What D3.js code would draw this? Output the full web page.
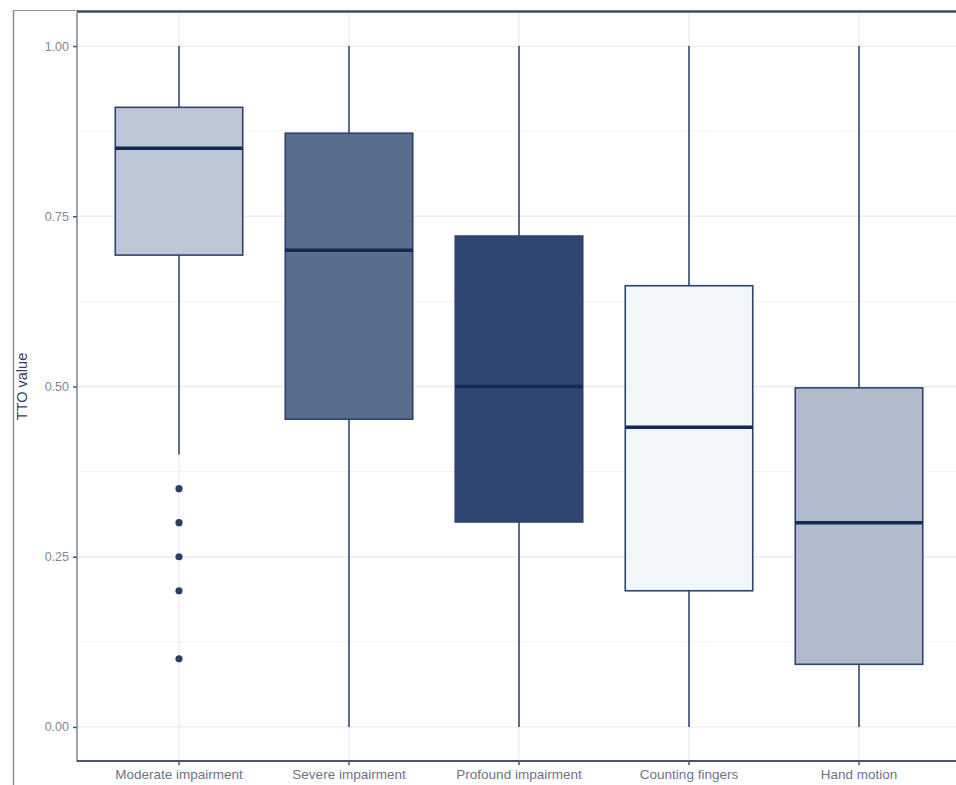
<!DOCTYPE html>
<html>
<head>
<meta charset="utf-8">
<script src="https://cdn.jsdelivr.net/npm/d3@7"></script>
<style>
  body { margin: 0; background: #fff; }
  svg text { font-family: "Liberation Sans", Arial, sans-serif; }
</style>
</head>
<body>
<div id="chart"></div>
<script>
// data
var categories = ["Moderate impairment", "Severe impairment", "Profound impairment", "Counting fingers", "Hand motion"];
var whiskerLow = [0.40, 0.00, 0.00, 0.00, 0.00];
var q1 = [0.693, 0.452, 0.301, 0.200, 0.092];
var medians = [0.85, 0.70, 0.50, 0.44, 0.30];
var q3 = [0.910, 0.872, 0.721, 0.648, 0.498];
var whiskerHigh = [1.00, 1.00, 1.00, 1.00, 1.00];
var outliers = [[0.35, 0.30, 0.25, 0.20, 0.10], [], [], [], []];
var fills = ["#bdc6d4", "#5a6d8d", "#2f4670", "#f3f6f9", "#b2bbcb"];
var yTicks = [0, 0.25, 0.5, 0.75, 1];

var width = 956, height = 785;
var margin = { top: 12, left: 77 };
var panelRight = 961, panelBottom = 761;

var svg = d3.select("#chart").append("svg")
    .attr("width", width)
    .attr("height", height);

// outer frame of the screenshot
svg.append("line").attr("x1", 13.5).attr("x2", 13.5).attr("y1", 10).attr("y2", height)
    .attr("stroke", "#8a8f99").attr("stroke-width", 1.5);
svg.append("line").attr("x1", 13).attr("x2", margin.left).attr("y1", 10.5).attr("y2", 10.5)
    .attr("stroke", "#8a8f99").attr("stroke-width", 1.2);

var x = d3.scaleBand()
    .domain(categories)
    .range([margin.left, panelRight])
    .paddingInner(0)
    .paddingOuter(0.1);
// ggplot discrete expansion: 0.6 of a step each side
var step = (panelRight - margin.left) / (categories.length + 0.2);
var cx = function (i) { return margin.left + step * (0.6 + i); };

var y = d3.scaleLinear()
    .domain([-0.05, 1.05])
    .range([panelBottom, margin.top]);

var g = svg.append("g");

// minor grid
var minor = [0.125, 0.375, 0.625, 0.875];
g.selectAll(".minor").data(minor).enter().append("line")
    .attr("x1", margin.left).attr("x2", panelRight)
    .attr("y1", function (d) { return y(d); }).attr("y2", function (d) { return y(d); })
    .attr("stroke", "#f1f3f7").attr("stroke-width", 1);
// major grid
g.selectAll(".major").data(yTicks).enter().append("line")
    .attr("x1", margin.left).attr("x2", panelRight)
    .attr("y1", function (d) { return y(d); }).attr("y2", function (d) { return y(d); })
    .attr("stroke", "#e9ecf2").attr("stroke-width", 1.3);
g.selectAll(".vgrid").data(categories).enter().append("line")
    .attr("x1", function (d, i) { return cx(i); }).attr("x2", function (d, i) { return cx(i); })
    .attr("y1", margin.top).attr("y2", panelBottom)
    .attr("stroke", "#e9ecf2").attr("stroke-width", 1.3);

var boxW = step * 0.75;
var stroke = "#2e4470";

var boxes = g.selectAll(".box").data(categories).enter().append("g");
boxes.append("line")
    .attr("x1", function (d, i) { return cx(i); }).attr("x2", function (d, i) { return cx(i); })
    .attr("y1", function (d, i) { return y(whiskerHigh[i]); })
    .attr("y2", function (d, i) { return y(q3[i]); })
    .attr("stroke", "#4a5d80").attr("stroke-width", 1.8);
boxes.append("line")
    .attr("x1", function (d, i) { return cx(i); }).attr("x2", function (d, i) { return cx(i); })
    .attr("y1", function (d, i) { return y(q1[i]); })
    .attr("y2", function (d, i) { return y(whiskerLow[i]); })
    .attr("stroke", "#4a5d80").attr("stroke-width", 1.8);
boxes.append("rect")
    .attr("x", function (d, i) { return cx(i) - boxW / 2; })
    .attr("width", boxW)
    .attr("y", function (d, i) { return y(q3[i]); })
    .attr("height", function (d, i) { return y(q1[i]) - y(q3[i]); })
    .attr("fill", function (d, i) { return fills[i]; })
    .attr("stroke", stroke).attr("stroke-width", 1.6);
boxes.append("line")
    .attr("x1", function (d, i) { return cx(i) - boxW / 2; })
    .attr("x2", function (d, i) { return cx(i) + boxW / 2; })
    .attr("y1", function (d, i) { return y(medians[i]); })
    .attr("y2", function (d, i) { return y(medians[i]); })
    .attr("stroke", "#142a52").attr("stroke-width", 3.5);

boxes.each(function (d, i) {
    d3.select(this).selectAll("circle").data(outliers[i]).enter().append("circle")
        .attr("cx", cx(i))
        .attr("cy", function (v) { return y(v); })
        .attr("r", 3.6)
        .attr("fill", "#2b3f66");
});

// panel top border (dark)
svg.append("line").attr("x1", margin.left).attr("x2", width).attr("y1", 11.5).attr("y2", 11.5)
    .attr("stroke", "#3f4b60").attr("stroke-width", 2.5);

// axes
var yAxis = d3.axisLeft(y).tickValues(yTicks).tickFormat(d3.format(".2f")).tickSize(4).tickPadding(4);
var ya = svg.append("g").attr("transform", "translate(" + margin.left + ",0)").call(yAxis);
ya.select(".domain").remove();
ya.selectAll(".tick line").attr("stroke", "#4b5566").attr("stroke-width", 1.5);
ya.selectAll("text").attr("fill", "#7f8899").attr("font-size", 12.5);
svg.append("line").attr("x1", margin.left).attr("x2", margin.left)
    .attr("y1", margin.top).attr("y2", panelBottom + 1)
    .attr("stroke", "#6b7384").attr("stroke-width", 1.3);

var xAxis = d3.axisBottom(x).tickSize(4).tickPadding(4);
var xa = svg.append("g").attr("transform", "translate(0," + panelBottom + ")").call(xAxis);
xa.select(".domain").remove();
xa.selectAll(".tick").attr("transform", function (d, i) { return "translate(" + cx(i) + ",0)"; });
xa.selectAll(".tick line").attr("stroke", "#4b5566").attr("stroke-width", 1.5);
xa.selectAll("text").attr("fill", "#6b7588").attr("font-size", 13.5);
svg.append("line").attr("x1", margin.left).attr("x2", width)
    .attr("y1", panelBottom).attr("y2", panelBottom)
    .attr("stroke", "#4b5566").attr("stroke-width", 1.8);

svg.append("text")
    .attr("transform", "translate(27," + y(0.5) + ") rotate(-90)")
    .attr("text-anchor", "middle")
    .attr("fill", "#2e3f61")
    .attr("font-size", 14.5)
    .text("TTO value");
</script>
</body>
</html>
